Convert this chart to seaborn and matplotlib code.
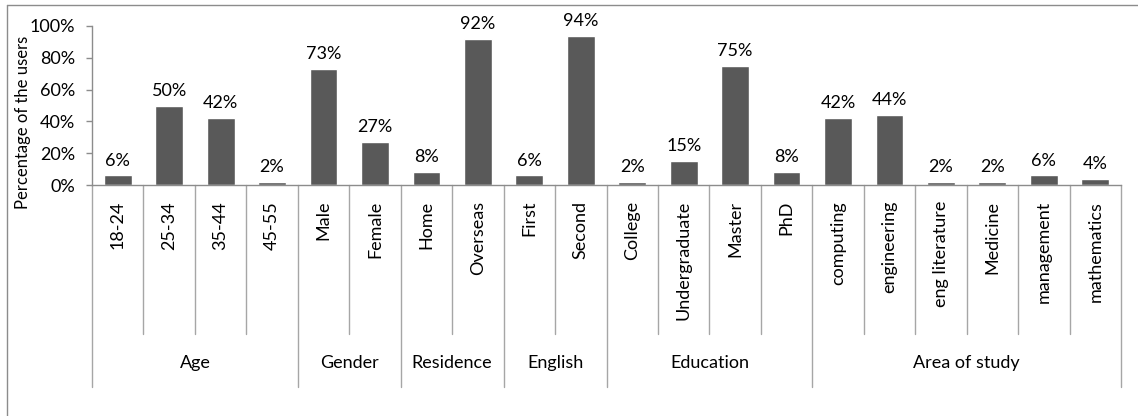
import matplotlib
matplotlib.use("Agg")
import matplotlib.pyplot as plt
import seaborn as sns
import pandas as pd
from matplotlib.lines import Line2D
from matplotlib.ticker import PercentFormatter

# Survey breakdown by attribute group
groups = ["Age", "Gender", "Residence", "English", "Education", "Area of study"]
group_items = [
    ["18-24", "25-34", "35-44", "45-55"],
    ["Male", "Female"],
    ["Home", "Overseas"],
    ["First", "Second"],
    ["College", "Undergraduate", "Master", "PhD"],
    ["computing", "engineering", "eng literature", "Medicine", "management", "mathematics"],
]
group_values = [
    [6, 50, 42, 2],
    [73, 27],
    [8, 92],
    [6, 94],
    [2, 15, 75, 8],
    [42, 44, 2, 2, 6, 4],
]

categories = [c for items in group_items for c in items]
values = [v for vals in group_values for v in vals]
group_of = [g for g, items in zip(groups, group_items) for _ in items]
df = pd.DataFrame({"category": categories, "value": values, "group": group_of})

sns.set_theme(style="white")
plt.rcParams["font.family"] = ["Lato", "DejaVu Sans"]

W, H = 1138, 416
fig = plt.figure(figsize=(W / 100, H / 100), dpi=100)

# chart frame: top and left edges
frame_kw = dict(transform=fig.transFigure, color="#8c8c8c", linewidth=1.0)
fig.lines.append(Line2D([7 / W, 1.0], [1 - 5 / H, 1 - 5 / H], **frame_kw))
fig.lines.append(Line2D([7 / W, 7 / W], [0.0, 1 - 5 / H], **frame_kw))

ax_l, ax_r, ax_t, ax_b = 92, 1121, 26, 185
ax = fig.add_axes([ax_l / W, 1 - ax_b / H, (ax_r - ax_l) / W, (ax_b - ax_t) / H])

sns.barplot(data=df, x="category", y="value", order=categories, color="#595959",
            saturation=1, width=0.54, ax=ax)
ax.set_xlim(-0.5, len(categories) - 0.5)
ax.set_ylim(0, 100)
ax.set_yticks(range(0, 101, 20))
ax.yaxis.set_major_formatter(PercentFormatter(decimals=0))
ax.tick_params(axis="y", which="both", left=True, length=4.3, width=1, color="#8c8c8c",
               labelsize=13, pad=8, labelcolor="black")
ax.set_xticks([])
ax.set_xlabel("")
ax.set_ylabel("Percentage of the users", fontsize=12, color="black",
              va="center", ha="center")
ax.yaxis.set_label_coords((23.5 - ax_l) / (ax_r - ax_l), (ax_b - 122) / (ax_b - ax_t))

for s in ["top", "right"]:
    ax.spines[s].set_visible(False)
for s in ["left", "bottom"]:
    ax.spines[s].set_color("#8c8c8c")
    ax.spines[s].set_linewidth(1.0)

# value labels above the bars
for patch, v in zip(ax.patches, values):
    ax.annotate(f"{v}%", (patch.get_x() + patch.get_width() / 2, v),
                xytext=(0, 5), textcoords="offset points",
                ha="center", va="bottom", fontsize=13, color="black")

# hierarchical category axis below the plot
trans = ax.get_xaxis_transform()
px = 1.0 / (ax_b - ax_t)
y_item_line = -(334 - ax_b) * px
y_group_line = -(387 - ax_b) * px
y_item_text = -(201 - ax_b) * px
y_group_text = -(363 - ax_b) * px
line_kw = dict(color="#a6a6a6", linewidth=1.0, transform=trans, clip_on=False)

for i, c in enumerate(categories):
    ax.text(i, y_item_text, c, rotation=90, ha="center", va="top",
            fontsize=13, transform=trans, color="black")

start = 0
for g, items in zip(groups, group_items):
    end = start + len(items)
    ax.plot([start - 0.5, start - 0.5], [0, y_group_line], **line_kw)
    for k in range(start + 1, end):
        ax.plot([k - 0.5, k - 0.5], [0, y_item_line], **line_kw)
    ax.text((start + end - 1) / 2, y_group_text, g, ha="center", va="center",
            fontsize=13, transform=trans, color="black")
    start = end
ax.plot([start - 0.5, start - 0.5], [0, y_group_line], **line_kw)

fig.savefig("out.png", dpi=100)
